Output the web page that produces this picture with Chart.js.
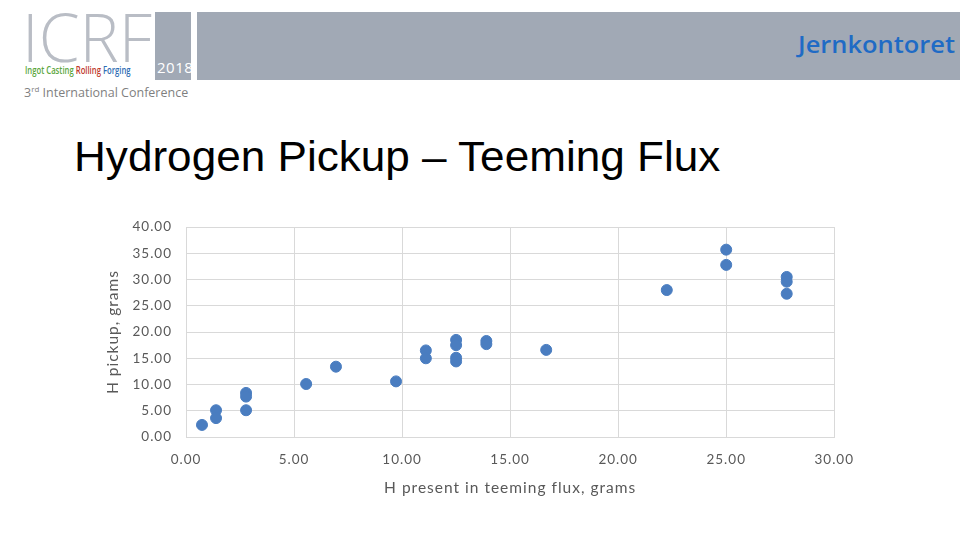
<!DOCTYPE html>
<html>
<head>
<meta charset="utf-8">
<script src="https://cdn.jsdelivr.net/npm/chart.js@4.4.1/dist/chart.umd.min.js"></script>
<style>
  body { margin: 0; width: 960px; height: 540px; background: #fff; position: relative; overflow: hidden; font-family: "Liberation Sans", Arial, sans-serif; }
  .bar { position: absolute; left: 197px; top: 12px; width: 763px; height: 68px; background: #a1a9b5; }
  .yearbox { position: absolute; left: 155px; top: 12px; width: 36px; height: 68px; background: #a1a9b5; }
  .year { position: absolute; left: 157px; top: 57px; font: 15px "Open Sans", sans-serif; color: #fff; letter-spacing: 0.5px; }
  .icrf { position: absolute; left: 22px; top: 0px; font: 200 66px "Open Sans", sans-serif; color: #b9bdc5; letter-spacing: 0px; line-height: 72px; }
  .sub { position: absolute; left: 25px; top: 63px; font: 600 10px "Open Sans", sans-serif; transform: scaleX(0.77); transform-origin: left top; white-space: nowrap; }
  .conf { position: absolute; left: 24px; top: 83px; font: 12.5px "Open Sans", sans-serif; color: #7f7f7f; }
  .jk { position: absolute; left: 798px; top: 27px; font: 600 24px "Open Sans", sans-serif; color: #1f6bc5; transform: scaleX(1.06); transform-origin: left top; }
  h1 { position: absolute; left: 74px; top: 133px; margin: 0; font: 400 42px "Liberation Sans", Arial, sans-serif; color: #000; transform: scaleX(1.05); transform-origin: left top; white-space: nowrap; }
  #wrap { position: absolute; left: 100px; top: 205px; width: 769px; height: 300px; }
</style>
</head>
<body>
<div class="yearbox"></div>
<div class="bar"></div>
<div class="icrf">ICRF</div>
<div class="year">2018</div>
<div class="sub"><span style="color:#5aa63c">Ingot Casting</span> <span style="color:#c0392b">Rolling</span> <span style="color:#2e6db4">Forging</span></div>
<div class="conf">3<sup style="font-size:8px">rd</sup> International Conference</div>
<div class="jk">Jernkontoret</div>
<h1>Hydrogen Pickup – Teeming Flux</h1>
<div id="wrap"><canvas id="scatterChart"></canvas></div>
<script>
// H present in teeming flux (g) and H pickup (g)
const fluxH = [0.74, 1.39, 1.39, 2.78, 2.78, 2.78, 5.56, 6.94, 9.72, 11.1, 11.1,
               12.5, 12.5, 12.5, 12.5, 13.9, 13.9, 16.67, 22.25, 25.0, 25.0, 27.8, 27.8, 27.8];
const pickupH = [2.3, 5.1, 3.6, 8.4, 7.7, 5.1, 10.1, 13.4, 10.6, 16.5, 15.0,
                 18.5, 17.5, 15.1, 14.4, 18.3, 17.7, 16.6, 28.0, 35.7, 32.8, 30.5, 29.6, 27.3];
const xTitle = 'H present in teeming flux, grams';
const yTitle = 'H pickup, grams';

const points = fluxH.map((x, i) => ({ x: x, y: pickupH[i] }));
const tickFont = { family: 'Lato, "Open Sans", sans-serif', size: 13.5 };
const titleFont = { family: 'Lato, "Open Sans", sans-serif', size: 15.5 };
const gridColor = '#d9d9d9';

// the slide text is a bit wide, so spread the canvas letters out
const wideText = {
    id: 'wideText',
    beforeLayout(chart) { chart.ctx.letterSpacing = '1px'; },
    beforeDraw(chart) { chart.ctx.letterSpacing = '1px'; }
};

new Chart(document.getElementById('scatterChart'), {
    type: 'scatter',
    data: {
        datasets: [{
            data: points,
            backgroundColor: '#4a7dc0',
            borderColor: '#4a7dc0',
            pointRadius: 5.5,
            pointHoverRadius: 5.5
        }]
    },
    options: {
        responsive: true,
        maintainAspectRatio: false,
        animation: false,
        layout: { padding: { top: 2, right: 26, left: 0, bottom: 0 } },
        plugins: { legend: { display: false }, tooltip: { enabled: false } },
        scales: {
            x: {
                type: 'linear',
                min: 0,
                max: 30,
                ticks: { stepSize: 5, color: '#595959', font: tickFont, padding: 15,
                         callback: v => v.toFixed(2) },
                grid: { color: gridColor, drawTicks: false },
                border: { color: gridColor },
                title: { display: true, text: xTitle, color: '#595959', font: titleFont,
                         padding: { top: 4, bottom: 8 } },
                afterFit: s => { s.height = 68; }
            },
            y: {
                min: 0,
                max: 40,
                ticks: { stepSize: 5, color: '#595959', font: tickFont, padding: 14,
                         callback: v => v.toFixed(2) },
                grid: { color: gridColor, drawTicks: false },
                border: { color: gridColor },
                title: { display: true, text: yTitle, color: '#595959', font: titleFont },
                afterFit: s => { s.width = 86; }
            }
        }
    },
    plugins: [wideText]
});
</script>
</body>
</html>
